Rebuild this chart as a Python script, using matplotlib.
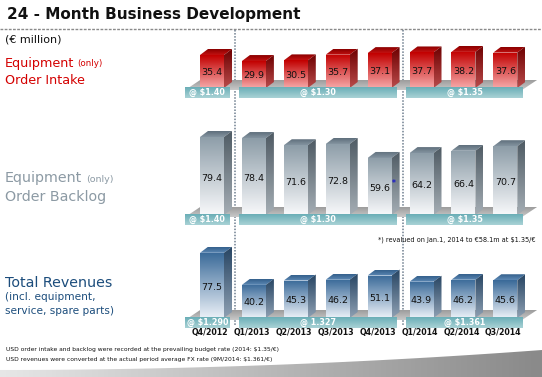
import numpy as np
import matplotlib.pyplot as plt
from matplotlib.patches import Polygon
from matplotlib.colors import LinearSegmentedColormap

# data
quarters = ["Q4/2012", "Q1/2013", "Q2/2013", "Q3/2013", "Q4/2013",
            "Q1/2014", "Q2/2014", "Q3/2014"]
order_intake = [35.4, 29.9, 30.5, 35.7, 37.1, 37.7, 38.2, 37.6]
order_backlog = [79.4, 78.4, 71.6, 72.8, 59.6, 64.2, 66.4, 70.7]
revenues = [77.5, 40.2, 45.3, 46.2, 51.1, 43.9, 46.2, 45.6]
rate_groups = [(0, 0), (1, 4), (5, 7)]
budget_rates = ["@ $1.40", "@ $1.30", "@ $1.35"]
revenue_rates = ["@ $1.290", "@ 1.327", "@ $1.361"]

W, H = 542, 377
fig = plt.figure(figsize=(W / 100, H / 100), dpi=100)
fig.patch.set_facecolor("white")

# background axes in pixel units, only for decoration
bg = fig.add_axes([0, 0, 1, 1])
bg.set_xlim(0, W)
bg.set_ylim(H, 0)
bg.axis("off")


def grad_fill(ax, verts, c_lo, c_hi, vertical=True, z=2):
    # polygon filled with a linear gradient (c_lo at min coord, c_hi at max)
    verts = np.asarray(verts, dtype=float)
    poly = Polygon(verts, closed=True, facecolor="none", edgecolor="none", zorder=z)
    ax.add_patch(poly)
    cmap = LinearSegmentedColormap.from_list("g", [c_lo, c_hi])
    g = np.linspace(0, 1, 64)
    img = g.reshape(-1, 1) if vertical else g.reshape(1, -1)
    im = ax.imshow(img, cmap=cmap, origin="lower", aspect="auto", zorder=z,
                   extent=(verts[:, 0].min(), verts[:, 0].max(),
                           verts[:, 1].min(), verts[:, 1].max()),
                   interpolation="bilinear")
    im.set_clip_path(poly)
    return poly


PX = 41.9   # px between bars
X0 = 212    # px of first bar centre


def panel(vals, base_px, k, v0, top_px, bot_px, front, top, side, rates, star=None):
    ax = fig.add_axes([170 / W, 1 - bot_px / H, 375 / W, (bot_px - top_px) / H])
    xlim = ((170 - X0) / PX, (545 - X0) / PX)
    ylim = (v0 - (bot_px - base_px) / k, v0 + (base_px - top_px) / k)
    ax.axis("off")
    dx, dy = 8 / PX, 6 / k
    w = 24 / PX
    n = len(vals)
    x = np.arange(n)

    # grey floor slab
    sl, sr = -0.64, 7.4
    grad_fill(ax, [(sl, v0 - 2 / k), (sr, v0 - 2 / k),
                   (sr + 15 / PX, v0 + 8 / k), (sl + 15 / PX, v0 + 8 / k)],
              "#c9c9c9", "#9c9c9c", z=1)

    bars = ax.bar(x, np.array(vals) - v0, bottom=v0, width=w,
                  color="none", edgecolor="none", zorder=3)
    for i, (b, v) in enumerate(zip(bars, vals)):
        xl, xr = i - w / 2, i + w / 2
        grad_fill(ax, [(xl, v0), (xr, v0), (xr, v), (xl, v)], front[1], front[0], z=3)
        grad_fill(ax, [(xl, v), (xr, v), (xr + dx, v + dy), (xl + dx, v + dy)],
                  top[1], top[0], z=3)
        grad_fill(ax, [(xr, v0), (xr + dx, v0 + dy), (xr + dx, v + dy), (xr, v)],
                  side[1], side[0], z=3)
        ly = v0 + 0.47 * (v - v0)
        ax.text(i, ly, f"{v:.1f}", ha="center", va="center", fontsize=6.8,
                color="#111111", zorder=6)
        if star == i:
            ax.text(i + 0.35, ly + 5 / k, "*", ha="center", va="center",
                    fontsize=5.5, color="#1a1acc", fontweight="bold", zorder=7)

    # teal fx bands
    for (a, b), lab in zip(rate_groups, rates):
        bl = a - 0.64 if a == 0 else a - 0.36
        br = b + 0.42
        grad_fill(ax, [(bl, v0 - 10 / k), (br, v0 - 10 / k),
                       (br, v0 + 1 / k), (bl, v0 + 1 / k)],
                  "#a9d2d6", "#6aaeb6", z=5)
        ax.text((bl + br) / 2, v0 - 4.5 / k, lab, ha="center", va="center",
                fontsize=5.8, fontweight="bold", color="white", zorder=6)

    ax.set_xlim(*xlim)
    ax.set_ylim(*ylim)
    return ax


red = ("#c20000", "#f6a8a8")
panel(order_intake, 88, 1.1, 5.4, 38, 104, red, ("#8a0000", "#c21010"),
      ("#6e0000", "#b84a4a"), budget_rates)
panel(order_backlog, 215, 1.06, 5.8, 120, 230, ("#8d9da8", "#f7f8fa"),
      ("#5f6f7b", "#8393a0"), ("#4f5b64", "#a4adb4"), budget_rates, star=4)
ax3 = panel(revenues, 318, 0.86, 1.7, 240, 340, ("#3a6a99", "#eaf0f7"),
            ("#34608c", "#5c88b4"), ("#274563", "#8d9fb2"), revenue_rates)
for i, q in enumerate(quarters):
    ax3.text(i - 2 / PX, 1.7 - 14 / 0.86, q, ha="center", va="center",
             fontsize=5.7, fontweight="bold", color="#111111")

# title and separators
bg.text(7, 14, "24 - Month Business Development", fontsize=11,
        fontweight="bold", color="#111111", va="center", ha="left")
bg.plot([0, W], [29, 29], color="#8a8a8a", lw=1.0, ls=(0, (2, 1)))
for a, b in rate_groups[:-1]:
    xd = X0 + PX * (b + 0.55)
    bg.plot([xd, xd], [30, 325], color="#6f7f8f", lw=1.1, ls=(0, (1, 1)))

# left labels
bg.text(5, 40, "(\u20ac million)", fontsize=8, va="center", color="#111111")
bg.text(5, 63, "Equipment", fontsize=9.2, va="center", color="#d40000")
bg.text(77, 64, "(only)", fontsize=6.3, va="center", color="#d40000")
bg.text(5, 80, "Order Intake", fontsize=9.2, va="center", color="#d40000")
bg.text(5, 178, "Equipment", fontsize=10.3, va="center", color="#8c9aa4")
bg.text(86, 179, "(only)", fontsize=6.8, va="center", color="#8c9aa4")
bg.text(5, 197, "Order Backlog", fontsize=10.3, va="center", color="#8c9aa4")
bg.text(5, 283, "Total Revenues", fontsize=10.3, va="center", color="#1c4d7c")
bg.text(5, 297, "(incl. equipment,", fontsize=7.6, va="center", color="#1c4d7c")
bg.text(5, 311, "service, spare parts)", fontsize=7.6, va="center", color="#1c4d7c")

bg.text(535, 240, "*) revalued on Jan.1, 2014 to \u20ac58.1m at $1.35/\u20ac",
        fontsize=4.7, ha="right", va="center", color="#111111")
bg.text(6, 349, "USD order intake and backlog were recorded at the prevailing "
        "budget rate (2014: $1.35/\u20ac)", fontsize=4.3, va="center", color="#111111")
bg.text(6, 360, "USD revenues were converted at the actual period average FX rate "
        "(9M/2014: $1.361/\u20ac)", fontsize=4.3, va="center", color="#111111")

# grey swoosh at the bottom
xs = np.linspace(0, W, 50)
top_edge = 370 - 20 * (xs / W) ** 2
verts = np.column_stack([np.r_[xs, W, 0], np.r_[top_edge, H, H]])
grad_fill(bg, verts, "#e6e6e6", "#8a8a8a", vertical=False, z=0)
bg.set_xlim(0, W)
bg.set_ylim(H, 0)

fig.savefig("out.png", dpi=100)
